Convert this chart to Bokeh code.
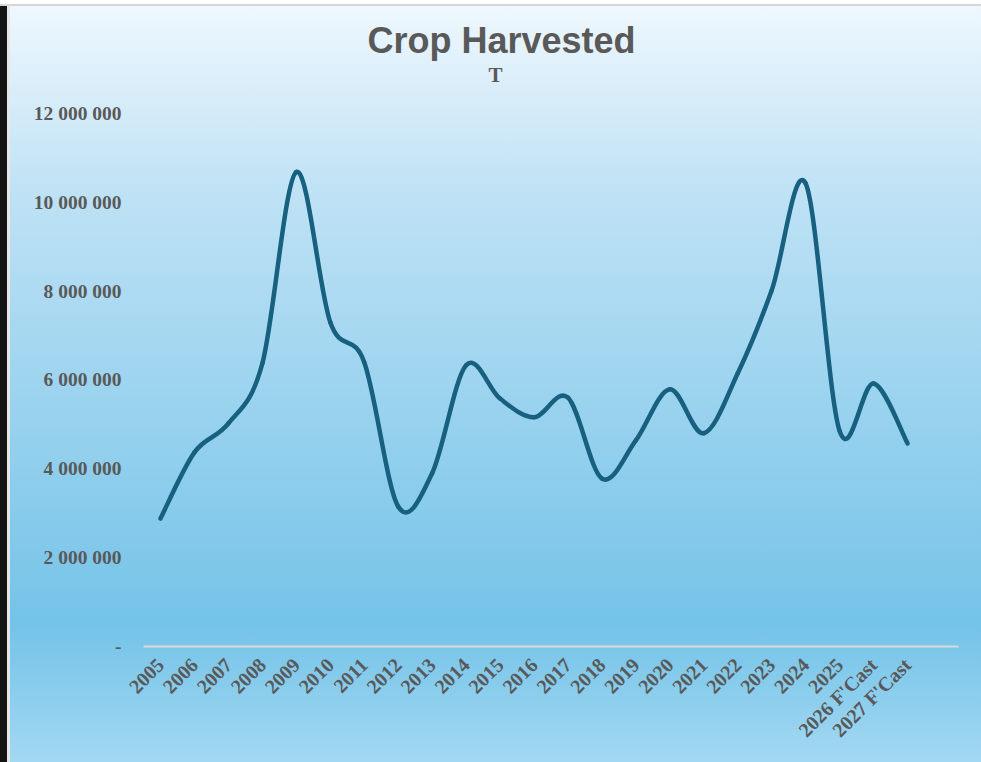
import numpy as np
from bokeh.plotting import figure
from bokeh.models import FixedTicker, Label, Range1d
from bokeh.embed import file_html
from bokeh.resources import INLINE

# ---- data ----
years = ["2005", "2006", "2007", "2008", "2009", "2010", "2011", "2012", "2013",
         "2014", "2015", "2016", "2017", "2018", "2019", "2020", "2021", "2022",
         "2023", "2024", "2025", "2026 F'Cast", "2027 F'Cast"]
harvest = [2880000, 4370000, 5020000, 6370000, 10680000, 7300000, 6400000, 3150000,
           3900000, 6330000, 5580000, 5160000, 5600000, 3780000, 4640000, 5790000,
           4800000, 6150000, 8020000, 10420000, 4850000, 5920000, 4570000]
y_ticks = [0, 2000000, 4000000, 6000000, 8000000, 10000000, 12000000]
y_tick_labels = ["-", "2 000 000", "4 000 000", "6 000 000", "8 000 000",
                 "10 000 000", "12 000 000"]
title_text = "Crop Harvested"
subtitle_text = "T"

TEXT = "#595959"
LINE = "#17607F"

# frame spans the full height above the axis; the top headroom holds the titles
p = figure(width=981, height=762, output_backend="svg", toolbar_location=None,
           x_range=Range1d(-0.5, 23.5), y_range=Range1d(0, 14540000),
           min_border_left=143, min_border_right=23, min_border_top=0,
           min_border_bottom=116)

p.background_fill_alpha = 0
p.border_fill_alpha = 0
p.outline_line_color = None
p.styles = {
    "background-image": "linear-gradient(to bottom, #f0f8fe 0%, #bfe2f5 25%, #74c3e8 82%, #a2d8f2 100%)",
    "box-shadow": "inset 0 4px 0 #ffffff, inset 0 6px 0 #d6d6d6, inset 7px 0 0 #141414, inset 10px 0 0 #e6e6e6",
}
p.grid.visible = False

# titles as screen-positioned labels (relative to the plot frame)
p.add_layout(Label(x=358, y=606, x_units="screen", y_units="screen", text=title_text,
                   text_align="center", text_baseline="middle",
                   text_font="Liberation Sans", text_font_size="36px",
                   text_font_style="bold", text_color=TEXT))
p.add_layout(Label(x=352, y=572, x_units="screen", y_units="screen", text=subtitle_text,
                   text_align="center", text_baseline="middle",
                   text_font="Liberation Serif", text_font_size="21px",
                   text_font_style="bold", text_color=TEXT))

# smoothed line (Catmull-Rom style bezier segments through the data points)
xs = np.arange(len(harvest), dtype=float)
ys = np.array(harvest, dtype=float)
n = len(xs)
x0 = xs[:-1]; y0 = ys[:-1]; x1 = xs[1:]; y1 = ys[1:]
xp = np.concatenate([[xs[0]], xs, [xs[-1]]])
yp = np.concatenate([[ys[0]], ys, [ys[-1]]])
cx0 = xs[:-1] + (xp[2:n+1] - xp[0:n-1]) / 6.0
cy0 = ys[:-1] + (yp[2:n+1] - yp[0:n-1]) / 6.0
cx1 = xs[1:] - (xp[3:n+2] - xp[1:n]) / 6.0
cy1 = ys[1:] - (yp[3:n+2] - yp[1:n]) / 6.0
p.bezier(x0=x0, y0=y0, x1=x1, y1=y1, cx0=cx0, cy0=cy0, cx1=cx1, cy1=cy1,
         line_color=LINE, line_width=4.5, line_cap="round")

# x axis
p.xaxis.ticker = FixedTicker(ticks=list(range(len(years))))
p.xaxis.major_label_overrides = {i: lab for i, lab in enumerate(years)}
p.xaxis.major_label_orientation = np.pi / 4
p.xaxis.major_label_text_font = "Liberation Serif"
p.xaxis.major_label_text_font_style = "bold"
p.xaxis.major_label_text_font_size = "20px"
p.xaxis.major_label_text_color = TEXT
p.xaxis.major_label_standoff = 9
p.xaxis.axis_line_color = "#d9d9d9"
p.xaxis.axis_line_width = 2
p.xaxis.major_tick_line_color = None
p.xaxis.minor_tick_line_color = None

# y axis
p.yaxis.ticker = FixedTicker(ticks=y_ticks)
p.yaxis.major_label_overrides = {t: lab for t, lab in zip(y_ticks, y_tick_labels)}
p.yaxis.major_label_text_font = "Liberation Serif"
p.yaxis.major_label_text_font_style = "bold"
p.yaxis.major_label_text_font_size = "19.5px"
p.yaxis.major_label_text_color = TEXT
p.yaxis.major_label_standoff = 16
p.yaxis.axis_line_color = None
p.yaxis.major_tick_line_color = None
p.yaxis.minor_tick_line_color = None

open("out.html", "w").write(file_html(p, INLINE))
